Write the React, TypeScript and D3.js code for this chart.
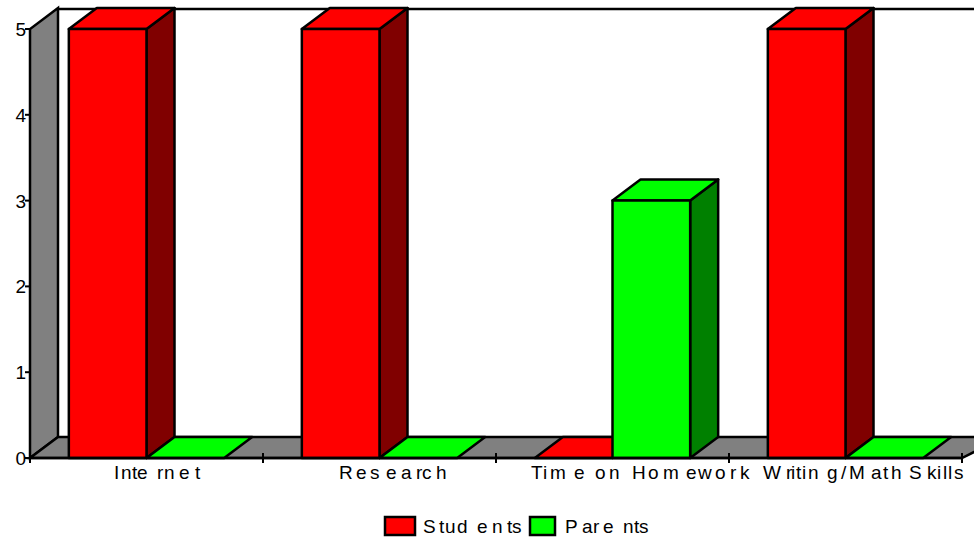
import React from "react";
import * as d3 from "d3";

const categories = ["Internet", "Research", "Time on Homework", "Writing/Math Skills"];
const seriesNames = ["Students", "Parents"];
const students = [5, 5, 0, 5];
const parents = [0, 0, 3, 0];
const seriesValues = [students, parents];
const yTicks = [0, 1, 2, 3, 4, 5];

const faceColors = [
  { front: "#ff0000", side: "#800000" },
  { front: "#00ff00", side: "#008000" },
];
const wallColor = "#808080";

const width = 974;
const height = 537;
const depthX = 28;
const depthY = 21;
const lineWidth = 2.5;
const labelSize = 19;

const x = d3.scaleBand<string>().domain(categories).range([30, 962]);
const inner = d3
  .scaleBand<string>()
  .domain(seriesNames)
  .range([0, x.bandwidth()])
  .paddingOuter(0.5)
  .paddingInner(0);
const y = d3.scaleLinear().domain([0, 5]).range([458, 29]);

const font = "'Liberation Sans', Arial, sans-serif";
const polygon = (pts: [number, number][]) => (d3.line()(pts) ?? "") + "Z";

// Per-glyph pen positions: the labels use an uneven, loosely tracked spacing.
const categoryGlyphX = [
  [114, 121, 132, 137, 157, 164, 179, 195],
  [339, 356, 370, 386, 401, 416, 422, 436],
  [531, 543, 550, 574, 585, 595, 609, 620, 632, 648, 663, 686, 698, 715, 730, 740],
  [763, 786, 791, 796, 802, 808, 827, 841, 849, 871, 883, 891, 902, 909, 927, 937, 943, 948, 954],
];
const legendGlyphX = [
  [423, 439, 445, 457, 477, 492, 507, 512],
  [565, 582, 593, 603, 623, 634, 639],
];
const swatchX = [385, 530];
const swatchWidth = [30, 25];

export default function App() {
  const x0 = x.range()[0];
  const x1 = x.range()[1];
  const floorY = y(0);
  const topY = y(5);
  const axisEnd = width + 2;
  return (
    <svg
      width={width}
      height={height}
      style={{ position: "fixed", left: 0, top: 0, background: "#fff", display: "block" }}
      fontFamily={font}
      stroke="none"
    >
      {/* Left wall and floor of the 3D box */}
      <path
        d={polygon([
          [x0, floorY],
          [x0 + depthX, floorY - depthY],
          [x0 + depthX, topY - depthY],
          [x0, topY],
        ])}
        fill={wallColor}
        stroke="#000"
        strokeWidth={lineWidth}
      />
      <path
        d={polygon([
          [x0, floorY],
          [x0 + depthX, floorY - depthY],
          [axisEnd + depthX, floorY - depthY],
          [x1, floorY],
        ])}
        fill={wallColor}
        stroke="#000"
        strokeWidth={lineWidth}
      />
      <line
        x1={x0 + depthX}
        x2={axisEnd}
        y1={topY - depthY + 1}
        y2={topY - depthY + 1}
        stroke="#000"
        strokeWidth={lineWidth}
      />

      {/* Bars: side face, top face, then front face */}
      {categories.map((cat, ci) =>
        seriesNames.map((name, si) => {
          const v = seriesValues[si][ci];
          const left = (x(cat) ?? 0) + (inner(name) ?? 0);
          const right = left + inner.bandwidth();
          const top = y(v);
          const colors = faceColors[si];
          return (
            <g key={`${cat}-${name}`} stroke="#000" strokeWidth={lineWidth} strokeLinejoin="round">
              {v > 0 && (
                <path
                  d={polygon([
                    [right, floorY],
                    [right + depthX, floorY - depthY],
                    [right + depthX, top - depthY],
                    [right, top],
                  ])}
                  fill={colors.side}
                />
              )}
              <path
                d={polygon([
                  [left, top],
                  [left + depthX, top - depthY],
                  [right + depthX, top - depthY],
                  [right, top],
                ])}
                fill={colors.front}
              />
              {v > 0 && <rect x={left} y={top} width={right - left} height={floorY - top} fill={colors.front} />}
            </g>
          );
        })
      )}

      {/* Front edge of the floor and axis ticks */}
      <line x1={x0} x2={x1} y1={floorY} y2={floorY} stroke="#000" strokeWidth={lineWidth} />
      {yTicks.map((t) => (
        <g key={t}>
          <line x1={x0 - 5} x2={x0} y1={y(t)} y2={y(t)} stroke="#000" strokeWidth={2} />
          <text x={x0 - 4} y={y(t) + 7} textAnchor="end" fontSize={labelSize} fill="#000">
            {t}
          </text>
        </g>
      ))}
      <line x1={x0} x2={x0} y1={floorY} y2={floorY + 5} stroke="#000" strokeWidth={2} />
      {categories.map((cat) => {
        const tx = (x(cat) ?? 0) + x.bandwidth();
        return <line key={cat} x1={tx} x2={tx} y1={floorY - 5} y2={floorY + 5} stroke="#000" strokeWidth={2} />;
      })}
      {categories.map((cat, i) => (
        <text key={cat} x={categoryGlyphX[i].join(" ")} y={479} fontSize={labelSize} fill="#000">
          {cat}
        </text>
      ))}

      {/* Legend */}
      {seriesNames.map((name, i) => (
        <g key={name}>
          <rect
            x={swatchX[i]}
            y={517}
            width={swatchWidth[i]}
            height={18}
            fill={faceColors[i].front}
            stroke="#000"
            strokeWidth={lineWidth}
          />
          <text x={legendGlyphX[i].join(" ")} y={533} fontSize={labelSize} fill="#000">
            {name}
          </text>
        </g>
      ))}
    </svg>
  );
}
